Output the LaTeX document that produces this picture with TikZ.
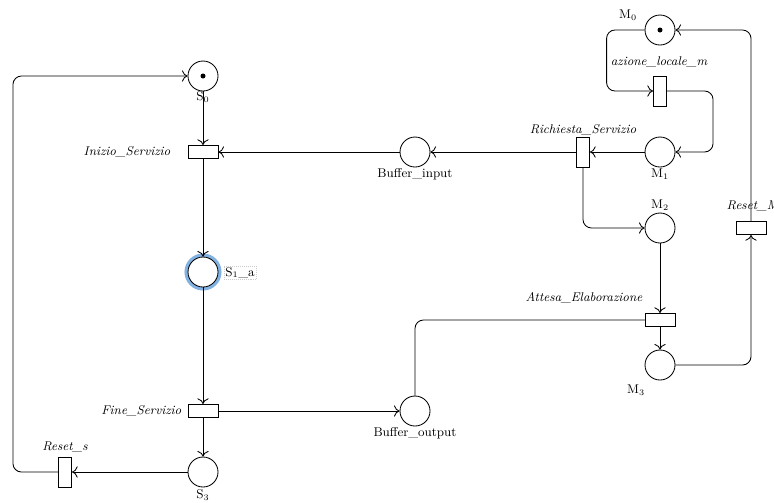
\documentclass[tikz,border=0pt]{standalone}
\usetikzlibrary{arrows.meta,backgrounds}
\definecolor{selblue}{RGB}{130,178,225}
\tikzstyle{place} = [circle,draw,fill=white,line width=0.6pt,minimum size=0.75cm,inner sep=0pt]
\tikzstyle{htrans} = [rectangle,draw,fill=white,line width=0.6pt,minimum width=0.75cm,minimum height=0.33cm,inner sep=0pt]
\tikzstyle{vtrans} = [rectangle,draw,fill=white,line width=0.6pt,minimum width=0.33cm,minimum height=0.75cm,inner sep=0pt]
\tikzstyle{arc} = [line width=0.6pt,-{To[length=4pt,width=8pt]},rounded corners=6pt]
\tikzstyle{tname} = [font=\itshape\small,inner sep=1pt]
\tikzstyle{pname} = [font=\small,inner sep=1pt]

\begin{document}
\begin{tikzpicture}[x=0.025cm,y=-0.025cm]
        \useasboundingbox (0,0) rectangle (774,502);
        % places
        \node[place] (s0) at (203,76) {};
        \node[place,preaction={draw=selblue,line width=5pt}] (s1a) at (203,272) {};
        \node[place] (s3) at (203,472) {};
        \node[place] (bin) at (415,152) {};
        \node[place] (bout) at (415,411) {};
        \node[place] (m0) at (660,30) {};
        \node[place] (m1) at (660,152) {};
        \node[place] (m2) at (660,228) {};
        \node[place] (m3) at (660,365) {};
        % tokens
        \fill (s0) circle (2.5);
        \fill (m0) circle (2.5);
        % transitions
        \node[htrans] (inizio) at (203,152) {};
        \node[htrans] (fine) at (203,411) {};
        \node[vtrans] (resets) at (65,472) {};
        \node[vtrans] (rich) at (583,152) {};
        \node[vtrans] (azione) at (660,91) {};
        \node[htrans] (attesa) at (660,320) {};
        \node[htrans] (resetm) at (751,228) {};
        % names
        \node[pname] (s0lbl) at (203,97) {S$_0$};
        \node[pname,draw=gray!40,densely dotted] (s1albl) at (240,273) {S$_1$\_a};
        \node[pname] (s3lbl) at (203,495) {S$_3$};
        \node[pname] (binlbl) at (415,174) {Buffer\_input};
        \node[pname] (boutlbl) at (415,433) {Buffer\_output};
        \node[pname] (m0lbl) at (628,15) {M$_0$};
        \node[pname] (m1lbl) at (660,174) {M$_1$};
        \node[pname] (m2lbl) at (660,205) {M$_2$};
        \node[pname] (m3lbl) at (636,390) {M$_3$};
        \node[tname,anchor=east] (iniziolbl) at (172,152) {Inizio\_Servizio};
        \node[tname,anchor=east] (finelbl) at (183,411) {Fine\_Servizio};
        \node[tname] (resetslbl) at (65,447) {Reset\_s};
        \node[tname] (richlbl) at (583,130) {Richiesta\_Servizio};
        \node[tname] (azionelbl) at (659,62) {azione\_locale\_m};
        \node[tname] (attesalbl) at (584,298) {Attesa\_Elaborazione};
        \node[tname,anchor=west] (resetmlbl) at (725,206) {Reset\_M};
        % arcs
        \draw[arc] (s0) -- (inizio);
        \draw[arc] (inizio) -- (s1a);
        \draw[arc] (s1a) -- (fine);
        \draw[arc] (fine) -- (s3);
        \draw[arc] (fine) -- (bout);
        \draw[arc] (s3) -- (resets);
        \draw[arc] (resets.west) -- ++(-45,0) |- (s0.west);
        \draw[arc] (bin) -- (inizio);
        \draw[arc] (rich) -- (bin);
        \draw[arc] (m1) -- (rich);
        \draw[arc] (m0.west) -- ++(-38,0) |- (azione.west);
        \draw[arc] (azione.east) -- ++(46,0) |- (m1.east);
        \draw[arc] (rich.south) |- (m2.west);
        \draw[arc] (m2) -- (attesa);
        \draw[arc] (attesa) -- (m3);
        \draw[arc] (m3.east) -| (resetm.south);
        \draw[arc] (resetm.north) |- (m0.east);
        \begin{scope}[on background layer]
            \draw[arc] (bout.north) |- (attesa.center);
        \end{scope}
\end{tikzpicture}
\end{document}
